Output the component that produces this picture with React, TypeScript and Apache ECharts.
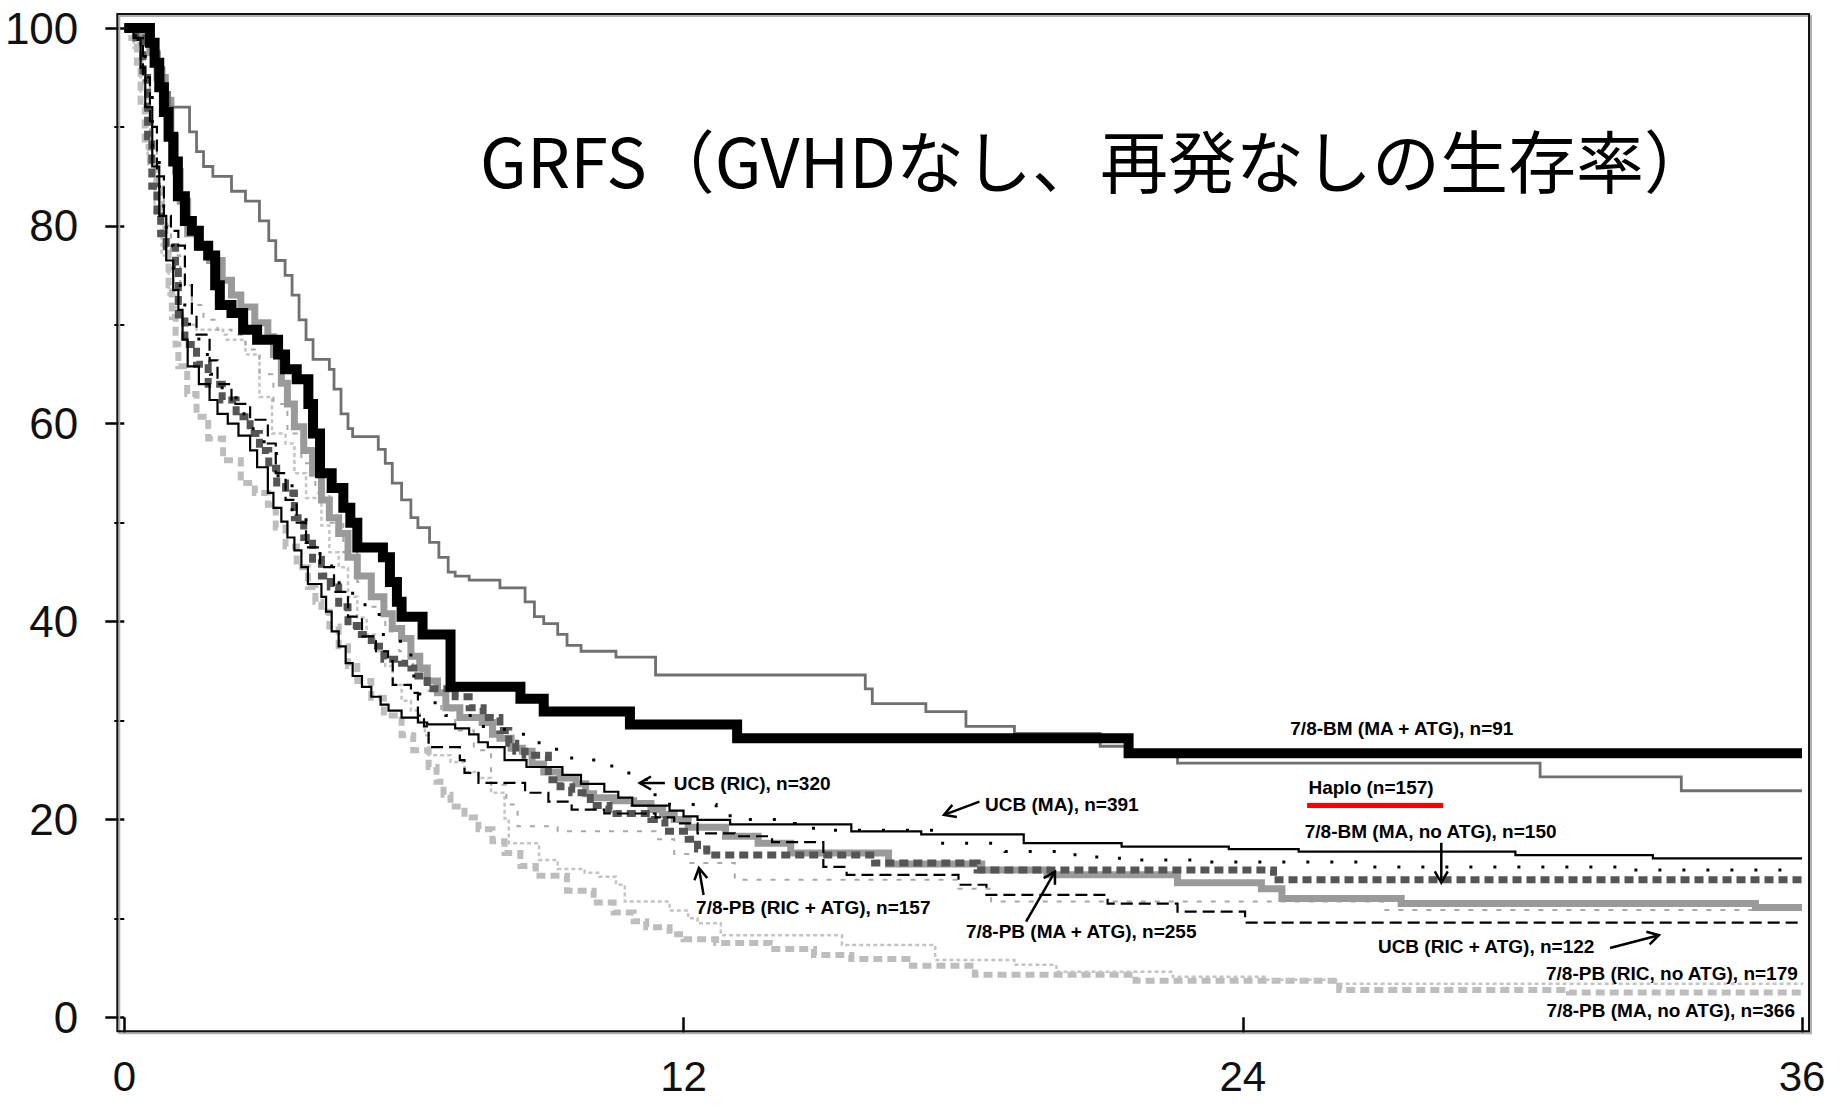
import React, { useEffect, useRef } from "react";
import * as echarts from "echarts";

type P = [number, number];

const TITLE = "GRFS（GVHDなし、再発なしの生存率）";
const X_TICKS = [0, 12, 24, 36];
const Y_TICKS = [0, 20, 40, 60, 80, 100];

// 7/8-BM (MA + ATG), n=91
const BM_MA_ATG: P[] = [[0,100],[0.45,100],[0.55,98.5],[0.65,96.5],[0.75,94],[0.85,91.5],[0.95,89],[1.05,86.5],[1.15,83],[1.3,80.5],[1.45,79.5],[1.6,78],[1.8,77],[1.95,74],[2.05,72],[2.3,71.2],[2.55,69.5],[2.85,68.5],[3.3,67],[3.45,65.5],[3.7,64.5],[3.95,62],[4.05,59],[4.2,55],[4.45,53.5],[4.7,51.5],[4.85,50],[5.0,47.5],[5.55,46.5],[5.7,44],[5.85,42],[5.95,40.5],[6.4,38.7],[7.0,33.4],[8.5,32.2],[9.0,30.9],[10.85,29.6],[13.15,28.2],[21.55,26.7],[36,26.7]];
// Haplo (n=157)
const HAPLO: P[] = [[0,100],[0.3,100],[0.6,97.5],[0.75,96],[0.85,93.5],[0.97,92],[1.4,89.5],[1.55,87.5],[1.7,86],[1.9,85],[2.3,83.5],[2.6,82.5],[2.9,80.5],[3.1,78.5],[3.25,76.5],[3.45,75],[3.6,73],[3.75,70.5],[3.9,68.5],[4.05,66.5],[4.4,65.5],[4.5,63.5],[4.65,61],[4.8,59.5],[4.9,58.7],[5.45,57.4],[5.6,56],[5.75,54],[5.95,52.3],[6.15,50.5],[6.3,49.5],[6.55,48],[6.75,46.5],[6.95,45],[7.1,44.6],[7.4,44.2],[8.06,43.4],[8.6,42],[8.8,40.5],[9.0,39.8],[9.3,38.7],[9.5,37.6],[9.8,37],[10.55,36.4],[11.4,34.6],[15.9,33.2],[16.05,31.7],[17.2,30.9],[18.06,29.4],[19.1,28.7],[20.94,27.4],[21.6,26.6],[22.6,25.7],[30.38,24.3],[33.41,22.9],[36,22.9]];
// UCB (MA), n=391
const UCB_MA: P[] = [[0,100],[0.2,99],[0.35,96],[0.45,92],[0.6,86],[0.75,81],[0.9,76.5],[1.05,73.5],[1.16,71.5],[1.25,68.5],[1.36,65.8],[1.6,64],[1.83,62.4],[2.0,61],[2.22,60],[2.45,58.8],[2.7,57.3],[2.85,55.6],[3.08,53],[3.2,51.5],[3.37,50.1],[3.5,48.5],[3.65,47.2],[3.8,45.5],[3.94,43.8],[4.23,42.5],[4.33,41],[4.45,39],[4.6,37.5],[4.75,35.8],[4.9,34.5],[5.1,33.4],[5.3,32.4],[5.5,31.6],[5.67,31],[5.95,30.3],[6.3,29.8],[6.5,29.6],[7.1,29.2],[7.4,28.6],[7.6,27.8],[7.8,27.3],[8.16,26],[8.63,25.3],[9.4,24.5],[9.8,23.6],[10.3,22.8],[10.6,22.2],[10.9,21.4],[11.7,20.9],[12.0,20.3],[12.3,19.95],[13.0,19.5],[15.6,18.8],[17.1,18.5],[19.3,17.6],[21.4,17.25],[23.7,17.0],[25.2,16.75],[29.85,16.4],[32.8,16.07],[36,16.07]];
// UCB (RIC), n=320
const UCB_RIC: P[] = [[0,100],[0.3,98],[0.45,94],[0.6,88],[0.75,82],[0.9,78],[1.05,75],[1.2,72],[1.4,69],[1.6,67],[1.85,65],[2.1,63],[2.4,61],[2.7,59.5],[3.0,57],[3.3,54],[3.6,51],[3.9,48],[4.2,46],[4.45,44.6],[4.61,43.4],[4.9,41.7],[5.3,41],[5.47,38.7],[5.76,38],[6.15,34.5],[6.34,32.4],[6.55,31.8],[6.9,30.5],[7.5,29.4],[8.16,28.6],[8.63,28.2],[8.9,27.1],[9.4,26.2],[9.9,26.0],[10.36,25.4],[10.7,24.7],[11.2,23.4],[11.35,22.5],[11.7,21.5],[12.7,21.2],[13.0,20.0],[14.0,19.6],[14.4,19.1],[15.0,18.9],[17.4,17.6],[18.9,16.75],[20.4,16.2],[21.0,16.07],[21.5,15.9],[22.9,15.7],[26.6,15.2],[32.3,14.9],[36,14.9]];
// 7/8-BM (MA, no ATG), n=150
const BM_MA_NOATG: P[] = [[0,100],[0.25,99],[0.4,95],[0.5,89],[0.59,84],[0.7,81],[0.78,79.2],[0.9,77.9],[1.1,76],[1.16,71],[1.3,68],[1.55,66],[1.8,64],[2.1,62.4],[2.4,60.7],[2.7,59],[2.9,57.3],[3.1,55.5],[3.27,54],[3.46,53],[3.65,50.5],[3.85,48.5],[4.04,46.3],[4.23,44.6],[4.42,43.5],[4.6,41.5],[4.8,39.6],[5.0,38.7],[5.3,37.5],[5.57,36.2],[5.95,35.8],[6.15,35.3],[6.3,34.5],[6.5,33.2],[7.1,32.4],[7.4,31.3],[7.7,30.3],[8.06,29],[8.25,27.7],[8.4,26.9],[8.6,26.5],[9.1,24],[9.35,23.3],[9.6,22.7],[10.0,21.4],[10.4,21.0],[10.55,20.6],[11.3,20.0],[11.6,18.8],[12.1,18.0],[12.3,17.0],[12.5,16.4],[16.1,15.6],[18.3,14.9],[24.66,13.9],[36,13.9]];
// 7/8-PB (MA + ATG), n=255
const PB_MA_ATG: P[] = [[0,100],[0.4,99.5],[0.55,97.5],[0.7,95],[0.88,92.7],[1.0,89],[1.1,85.5],[1.2,82.5],[1.36,79.2],[1.6,77.8],[1.83,76.5],[2.1,74.5],[2.3,73],[2.5,71.8],[2.8,70.2],[3.08,68.8],[3.2,67],[3.37,64.1],[3.5,62],[3.65,59.7],[3.85,57.3],[4.04,55],[4.23,52.3],[4.4,50.5],[4.6,48.9],[4.8,46.5],[5.0,44.6],[5.3,42.5],[5.57,40.8],[5.75,39.3],[5.95,38.3],[6.15,36.5],[6.34,35.3],[6.5,34],[6.72,32.8],[6.9,31.3],[7.2,30.3],[7.68,29.8],[7.9,28.6],[8.06,28.2],[8.3,27.2],[8.54,26.9],[8.75,25.6],[9.0,24.8],[9.35,24.2],[9.69,23.6],[9.9,22.6],[10.07,22.2],[10.5,21.9],[10.93,21.6],[11.3,21.0],[11.55,20.5],[11.8,20.0],[12.1,19.2],[12.9,18.3],[13.6,17.6],[14.3,16.6],[16.4,15.5],[18.4,14.9],[19.8,14.4],[22.6,13.6],[24.4,13.0],[24.84,12.0],[27.4,11.5],[35.0,11.1],[36,11.1]];
// UCB (RIC + ATG), n=122
const UCB_RIC_ATG: P[] = [[0,100],[0.25,99],[0.4,95],[0.55,90],[0.7,85],[0.85,81],[1.0,79.5],[1.16,78],[1.3,74],[1.45,71],[1.55,69],[1.83,66.4],[2.0,64],[2.3,62],[2.7,60.4],[3.08,58],[3.25,55],[3.46,52.3],[3.7,50],[3.9,47.5],[4.2,45.5],[4.5,43],[4.8,40.5],[5.1,38.5],[5.4,37],[5.66,36],[5.76,33.6],[6.15,32.8],[6.3,30.5],[6.43,29.4],[6.53,27.3],[7.2,26],[7.3,24.7],[7.6,23.7],[8.6,22.7],[9.1,21.8],[9.6,21.0],[10.3,20.6],[11.4,20.2],[11.8,19.6],[12.3,18.6],[13.1,18.3],[13.9,17.7],[15.0,15.2],[15.5,14.4],[17.9,13.4],[18.5,12.37],[21.1,11.5],[22.6,10.68],[24.05,9.57],[36,9.57]];
// 7/8-PB (RIC, no ATG), n=179
const PB_RIC_NOATG: P[] = [[0,100],[0.2,98],[0.35,93],[0.5,87],[0.65,82],[0.8,77],[0.95,73],[1.1,71],[1.3,70],[1.55,69.5],[2.12,69],[2.2,68.5],[2.6,67],[2.9,62.7],[3.17,59],[3.46,58],[3.65,55],[3.9,52.5],[4.23,49.7],[4.4,47],[4.6,45.5],[4.8,42.5],[5.0,40.4],[5.2,38.7],[5.38,37],[5.6,35.5],[5.76,33.6],[5.95,32],[6.15,31],[6.34,29.8],[6.45,28.5],[6.53,26.5],[7.0,25.8],[7.3,24.8],[7.6,24.2],[7.87,22.7],[8.16,20.1],[8.25,17.6],[8.9,15.9],[9.3,15.0],[9.88,14.6],[10.2,14.2],[10.55,13.4],[10.74,11.7],[11.7,10.8],[12.1,10.0],[12.3,9.5],[12.8,8.3],[15.4,7.3],[17.4,5.8],[19.1,5.3],[20.0,4.6],[22.5,4.1],[24.5,3.8],[26.0,3.4],[36,3.3]];
// 7/8-PB (RIC + ATG), n=157
const PB_RIC_ATG: P[] = [[0,100],[0.25,98.5],[0.4,94],[0.55,88],[0.7,84],[0.85,80],[1.0,77],[1.2,74],[1.45,72],[1.7,70.5],[2.0,69.5],[2.3,69],[2.6,67.5],[2.9,65],[3.2,62],[3.5,59],[3.8,56],[4.1,53],[4.4,50],[4.7,47],[5.0,44],[5.3,41.5],[5.6,39],[5.9,37],[6.2,35],[6.5,33],[6.8,31],[7.1,29],[7.5,27],[7.87,23.5],[8.2,21.5],[8.44,19.3],[9.3,18.8],[11.4,18.0],[11.8,16.5],[12.1,15.6],[13.1,13.9],[17.9,13.0],[18.6,11.7],[27.0,10.85],[36,10.85]];
// 7/8-PB (MA, no ATG), n=366
const PB_MA_NOATG: P[] = [[0,100],[0.15,99],[0.27,96.5],[0.35,92],[0.44,88],[0.55,86],[0.69,84],[0.8,80],[0.88,77.6],[0.95,74],[1.02,70.8],[1.1,68],[1.16,65.8],[1.35,63],[1.55,60.7],[1.8,58.5],[2.12,56.3],[2.5,54],[2.8,53],[3.08,51.8],[3.25,49.5],[3.46,47.6],[3.7,45.5],[3.94,43.5],[4.1,42],[4.23,41],[4.4,39.5],[4.6,37.5],[4.8,35.5],[5.0,34],[5.3,32.3],[5.57,30.5],[5.95,28.5],[6.2,27],[6.53,25.3],[6.7,23.8],[6.85,22.5],[7.0,21.3],[7.3,20.2],[7.6,19],[7.9,17.8],[8.16,16.6],[8.5,15.3],[8.83,14.3],[9.5,12.8],[10.07,11.6],[10.5,10.6],[10.93,9.7],[11.2,9.1],[11.7,8.4],[12.0,7.9],[12.7,7.5],[13.85,6.9],[14.8,6.3],[15.6,5.9],[16.9,5.2],[18.25,4.3],[21.7,3.7],[26.07,2.76],[31.0,2.5],[36,2.5]];

// Annotation texts (anchored in data coordinates)
const LABEL_TEXTS = [
  "7/8-BM (MA + ATG), n=91",
  "Haplo (n=157)",
  "7/8-BM (MA, no ATG), n=150",
  "UCB (RIC + ATG), n=122",
  "7/8-PB (RIC, no ATG), n=179",
  "7/8-PB (MA, no ATG), n=366",
  "UCB (RIC), n=320",
  "UCB (MA), n=391",
  "7/8-PB (RIC + ATG), n=157",
  "7/8-PB (MA + ATG), n=255",
];
const LABEL_ANCHORS: P[] = [
  [25.02, 29.24], [25.41, 23.18], [25.33, 18.83], [26.9, 7.2], [35.91, 4.4],
  [35.85, 0.64], [11.79, 23.68], [18.47, 21.46], [12.27, 11.06], [18.06, 8.63],
];
const LABEL_ALIGN = ["left", "left", "left", "left", "right", "right", "left", "left", "left", "left"];
// arrows: [from, tip]
const ARROWS: [P, P][] = [
  [[28.26, 17.64], [28.26, 13.6]],
  [[31.88, 7.0], [32.93, 8.3]],
  [[11.6, 23.68], [11.06, 23.68]],
  [[18.35, 21.8], [17.59, 20.46]],
  [[12.43, 12.36], [12.33, 15.09]],
  [[19.35, 9.66], [19.97, 14.72]],
];
const HAPLO_UNDERLINE: [P, P] = [[25.38, 21.4], [28.3, 21.4]];

const SANS = "'Liberation Sans', Arial, sans-serif";

const SERIES_DEFS = [
  { name: "7/8-PB (MA, no ATG)", data: PB_MA_NOATG, color: "#bdbdbd", width: 6, dash: [9, 5] as any },
  { name: "7/8-PB (RIC, no ATG)", data: PB_RIC_NOATG, color: "#c4c4c4", width: 2.5, dash: [4, 3] as any },
  { name: "7/8-PB (RIC + ATG)", data: PB_RIC_ATG, color: "#a8a8a8", width: 2, dash: [5, 9] as any },
  { name: "7/8-PB (MA + ATG)", data: PB_MA_ATG, color: "#9a9a9a", width: 7, dash: "solid" as any },
  { name: "7/8-BM (MA, no ATG)", data: BM_MA_NOATG, color: "#555555", width: 7, dash: [9, 5] as any },
  { name: "UCB (RIC + ATG)", data: UCB_RIC_ATG, color: "#000000", width: 2.2, dash: [12, 6] as any },
  { name: "UCB (RIC)", data: UCB_RIC, color: "#000000", width: 3, dash: [3, 21] as any },
  { name: "UCB (MA)", data: UCB_MA, color: "#000000", width: 2.2, dash: "solid" as any },
  { name: "Haplo", data: HAPLO, color: "#707070", width: 2.8, dash: "solid" as any },
  { name: "7/8-BM (MA + ATG)", data: BM_MA_ATG, color: "#000000", width: 10, dash: "solid" as any },
];

export default function App() {
  const ref = useRef<HTMLDivElement>(null);
  useEffect(() => {
    if (!ref.current) return;
    const chart = echarts.init(ref.current, null, { renderer: "svg" });
    const xInt = X_TICKS[1] - X_TICKS[0];
    const yInt = Y_TICKS[1] - Y_TICKS[0];
    chart.setOption({
      animation: false,
      backgroundColor: "#ffffff",
      grid: { left: 124.3, top: 28, right: 41, bottom: 88.7, containLabel: false },
      xAxis: {
        type: "value",
        min: X_TICKS[0],
        max: X_TICKS[X_TICKS.length - 1],
        interval: xInt,
        offset: 14,
        axisLine: { show: false },
        axisTick: { show: true, length: 16, lineStyle: { color: "#000", width: 2.5 } },
        axisLabel: { fontSize: 42, lineHeight: 32, fontFamily: SANS, color: "#111", margin: 29 },
        splitLine: { show: false },
      },
      yAxis: {
        type: "value",
        min: Y_TICKS[0],
        max: Y_TICKS[Y_TICKS.length - 1],
        interval: yInt,
        offset: 7,
        axisLine: { show: false },
        axisTick: { show: true, length: 19, lineStyle: { color: "#000", width: 2.5 } },
        minorTick: { show: true, splitNumber: 2, length: 10, lineStyle: { color: "#000", width: 2 } },
        axisLabel: { fontSize: 44, lineHeight: 34, fontFamily: SANS, color: "#111", margin: 39 },
        splitLine: { show: false },
        minorSplitLine: { show: false },
      },
      series: SERIES_DEFS.map((s, i) => ({
        type: "line",
        name: s.name,
        data: s.data,
        step: "end",
        showSymbol: false,
        symbol: "none",
        silent: true,
        z: 2 + i,
        lineStyle: { color: s.color, width: s.width, type: s.dash, cap: "butt", join: "miter" },
      })),
    });

    const px = (p: P) => chart.convertToPixel({ gridIndex: 0 }, p) as number[];
    const a = px([X_TICKS[0], Y_TICKS[Y_TICKS.length - 1]]);
    const b = px([X_TICKS[X_TICKS.length - 1], Y_TICKS[0]]);
    const g: any[] = [];
    g.push({
      type: "rect", z: 50,
      shape: { x: a[0] - 7 + 2, y: a[1] - 14 + 2, width: b[0] - a[0] + 14, height: b[1] - a[1] + 28 },
      style: { fill: "none", stroke: "#b0b0b0", lineWidth: 2 },
    });
    g.push({
      type: "rect", z: 51,
      shape: { x: a[0] - 7, y: a[1] - 14, width: b[0] - a[0] + 14, height: b[1] - a[1] + 28 },
      style: { fill: "none", stroke: "#111", lineWidth: 2 },
    });
    g.push({
      type: "text", z: 60, x: 1096, y: 158,
      style: {
        text: TITLE, fill: "#000", fontSize: 68, fontFamily: "'Noto Sans CJK JP', sans-serif",
        textAlign: "center", textVerticalAlign: "middle", align: "center", verticalAlign: "middle",
      },
    });
    LABEL_TEXTS.forEach((t, i) => {
      const p = px(LABEL_ANCHORS[i]);
      g.push({
        type: "text", z: 60, x: p[0], y: p[1],
        style: {
          text: t, fill: "#000", fontSize: 19, fontWeight: "bold", fontFamily: SANS,
          textAlign: LABEL_ALIGN[i], textVerticalAlign: "middle", align: LABEL_ALIGN[i], verticalAlign: "middle",
        },
      });
    });
    const u0 = px(HAPLO_UNDERLINE[0]);
    const u1 = px(HAPLO_UNDERLINE[1]);
    g.push({ type: "rect", z: 60, shape: { x: u0[0], y: u0[1] - 2.5, width: u1[0] - u0[0], height: 5 }, style: { fill: "#ff0000" } });
    ARROWS.forEach(([f, t]) => {
      const s = px(f);
      const e = px(t);
      const dx = e[0] - s[0], dy = e[1] - s[1];
      const len = Math.sqrt(dx * dx + dy * dy) || 1;
      const ux = dx / len, uy = dy / len;
      const L = 13, ang = (30 * Math.PI) / 180;
      const rot = (c: number, sn: number) => [ux * c - uy * sn, ux * sn + uy * c];
      const r1 = rot(Math.cos(ang), Math.sin(ang));
      const r2 = rot(Math.cos(-ang), Math.sin(-ang));
      g.push({ type: "line", z: 60, shape: { x1: s[0], y1: s[1], x2: e[0], y2: e[1] }, style: { stroke: "#000", lineWidth: 2.5 } });
      g.push({
        type: "polyline", z: 60,
        shape: { points: [[e[0] - L * r1[0], e[1] - L * r1[1]], [e[0], e[1]], [e[0] - L * r2[0], e[1] - L * r2[1]]] },
        style: { stroke: "#000", lineWidth: 2.5, fill: "none" },
      });
    });
    chart.setOption({ graphic: g });
    return () => chart.dispose();
  }, []);
  return <div ref={ref} style={{ position: "fixed", left: 0, top: 0, width: 1843, height: 1106, background: "#fff" }} />;
}
